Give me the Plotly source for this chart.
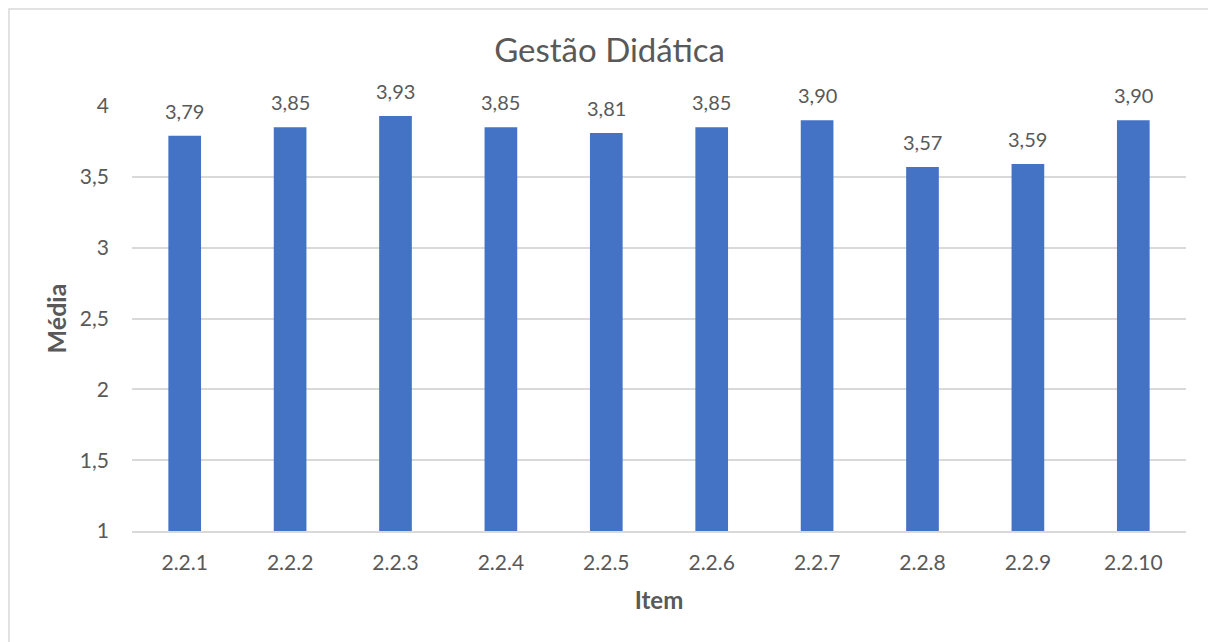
import plotly.graph_objects as go

items = ["2.2.1", "2.2.2", "2.2.3", "2.2.4", "2.2.5", "2.2.6", "2.2.7", "2.2.8", "2.2.9", "2.2.10"]
means = [3.79, 3.85, 3.93, 3.85, 3.81, 3.85, 3.90, 3.57, 3.59, 3.90]
labels = [f"{v:.2f}".replace(".", ",") for v in means]

FONT = "Lato, Open Sans, sans-serif"
GREY = "#595959"

fig = go.Figure(go.Bar(
    x=items, y=means,
    marker=dict(color="#4472C4", line=dict(width=0)),
))

for it, v, lab in zip(items, means, labels):
    fig.add_annotation(x=it, y=v, text=lab, showarrow=False, yanchor="middle", yshift=25,
                       font=dict(size=20, color=GREY, family=FONT))

fig.update_layout(
    width=1208, height=634,
    margin=dict(l=124, r=30, t=98, b=111),
    paper_bgcolor="white", plot_bgcolor="white",
    separators=",.",
    bargap=0.69,
    showlegend=False,
    font=dict(family=FONT, color=GREY, size=20),
    title=dict(text="Gestão Didática", x=0.498, xanchor="center", y=0.933, yanchor="middle",
               font=dict(size=33, color=GREY, family=FONT)),
)
fig.update_yaxes(range=[1, 4], dtick=0.5, showgrid=True, gridcolor="#d9d9d9", gridwidth=1.5,
                 zeroline=False, showline=False, ticks="", ticklabelstandoff=22,
                 tickfont=dict(size=21, color=GREY),
                 title=dict(text="<b>Média</b>", font=dict(size=25, color=GREY), standoff=6))
fig.update_xaxes(showline=True, linecolor="#d9d9d9", linewidth=1.5, ticks="",
                 ticklabelstandoff=12, tickfont=dict(size=21, color=GREY),
                 title=dict(text="<b>Item</b>", font=dict(size=24, color=GREY), standoff=19))
fig.add_shape(type="rect", xref="paper", yref="paper", x0=-0.1167, x1=1.0256, y0=-0.3, y1=1.228,
              line=dict(color="#d9d9d9", width=1.5), fillcolor="rgba(0,0,0,0)", layer="below")

fig.write_html("out.html")
